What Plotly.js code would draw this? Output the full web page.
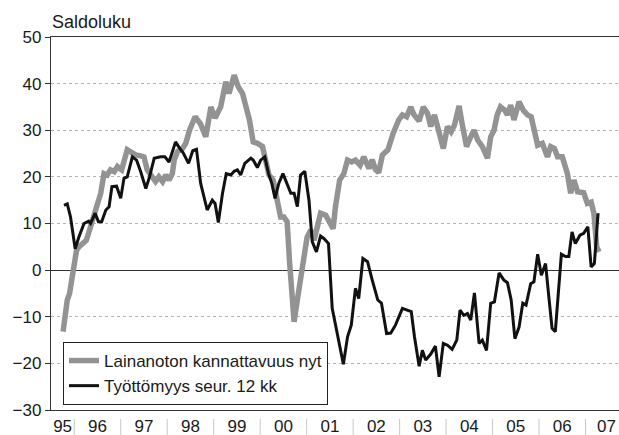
<!DOCTYPE html>
<html>
<head>
<meta charset="utf-8">
<script src="https://cdn.plot.ly/plotly-3.0.1.min.js"></script>
<style>html,body{margin:0;padding:0;background:#fff;}#chart{width:619px;height:435px;}</style>
</head>
<body>
<div id="chart"></div>
<script>
// Series 1: Lainanoton kannattavuus nyt (grey) — decimal years and balance values
var grayYears = [1995.76,1995.80,1995.85,1995.90,1995.96,1996.00,1996.05,1996.10,1996.19,1996.26,1996.33,1996.40,1996.50,1996.57,1996.64,1996.71,1996.78,1996.86,1996.93,1997.02,1997.14,1997.24,1997.32,1997.43,1997.50,1997.57,1997.67,1997.75,1997.82,1997.90,1997.97,1998.04,1998.11,1998.15,1998.22,1998.33,1998.40,1998.48,1998.60,1998.72,1998.83,1998.94,1999.03,1999.15,1999.26,1999.33,1999.44,1999.53,1999.62,1999.72,1999.77,1999.85,1999.94,2000.05,2000.12,2000.19,2000.28,2000.37,2000.44,2000.51,2000.58,2000.63,2000.68,2000.73,2000.80,2000.87,2000.94,2001.01,2001.09,2001.16,2001.23,2001.30,2001.41,2001.48,2001.57,2001.62,2001.71,2001.80,2001.88,2001.97,2002.05,2002.15,2002.23,2002.34,2002.41,2002.48,2002.55,2002.63,2002.75,2002.86,2002.98,2003.06,2003.15,2003.24,2003.31,2003.42,2003.51,2003.60,2003.67,2003.75,2003.82,2003.94,2004.03,2004.11,2004.18,2004.28,2004.35,2004.44,2004.53,2004.60,2004.68,2004.78,2004.89,2004.96,2005.03,2005.10,2005.17,2005.26,2005.32,2005.39,2005.46,2005.57,2005.66,2005.75,2005.83,2005.92,2005.97,2006.07,2006.18,2006.25,2006.33,2006.40,2006.50,2006.61,2006.68,2006.75,2006.83,2006.96,2007.04,2007.12,2007.18,2007.24,2007.29];
var grayValues = [-13.2,-9.3,-6.4,-5.0,-0.7,2.1,4.3,5.0,5.7,6.4,8.6,10.7,13.6,16.5,20.7,20.4,21.5,21.1,22.2,21.5,25.8,25.0,24.7,24.5,24.3,21.5,20.0,19.0,20.0,19.0,20.4,19.3,20.7,23.6,25.4,26.1,27.2,30.0,32.9,31.3,28.6,35.0,32.6,35.0,40.4,37.9,41.8,39.3,37.9,34.3,32.2,27.5,27.2,26.5,23.6,20.4,19.3,14.3,11.4,11.4,10.4,2.1,-5.0,-11.1,-6.4,-2.1,2.9,7.1,8.6,6.4,9.3,12.2,11.8,10.7,8.9,13.6,19.3,20.7,23.6,23.2,23.6,22.5,24.3,21.8,23.7,21.6,20.9,24.7,25.8,29.3,32.2,33.3,32.9,35.0,33.3,32.0,35.0,33.6,30.8,33.3,30.8,26.1,30.8,29.7,31.1,35.2,31.1,26.5,28.6,30.0,27.9,26.5,24.0,28.6,30.0,33.3,35.0,34.3,33.3,35.4,32.2,36.1,34.3,33.3,32.9,29.3,26.8,27.2,24.3,26.5,26.1,24.3,24.3,20.7,16.5,19.3,16.8,16.6,14.3,14.6,12.2,5.0,3.9];

// Series 2: Työttömyys seur. 12 kk (black)
var blackYears = [1995.78,1995.85,1995.92,1996.02,1996.10,1996.21,1996.31,1996.35,1996.45,1996.52,1996.59,1996.68,1996.75,1996.81,1996.91,1997.00,1997.07,1997.14,1997.25,1997.34,1997.43,1997.54,1997.62,1997.72,1997.86,1997.95,1998.04,1998.18,1998.27,1998.34,1998.46,1998.55,1998.63,1998.72,1998.86,1998.97,1999.03,1999.10,1999.19,1999.27,1999.37,1999.44,1999.51,1999.58,1999.67,1999.80,1999.85,1999.94,2000.01,2000.10,2000.18,2000.25,2000.32,2000.40,2000.49,2000.58,2000.66,2000.73,2000.80,2000.87,2000.96,2001.05,2001.12,2001.21,2001.30,2001.37,2001.47,2001.55,2001.66,2001.79,2001.88,2001.96,2002.05,2002.12,2002.21,2002.31,2002.41,2002.53,2002.61,2002.72,2002.81,2002.91,2003.06,2003.20,2003.25,2003.32,2003.42,2003.49,2003.56,2003.67,2003.77,2003.85,2003.94,2004.03,2004.13,2004.23,2004.30,2004.38,2004.46,2004.53,2004.61,2004.71,2004.78,2004.87,2004.96,2005.04,2005.14,2005.24,2005.32,2005.40,2005.48,2005.57,2005.65,2005.72,2005.82,2005.89,2005.97,2006.05,2006.14,2006.21,2006.28,2006.35,2006.40,2006.48,2006.57,2006.64,2006.71,2006.78,2006.88,2006.96,2007.05,2007.12,2007.19,2007.27];
var blackValues = [13.9,14.2,11.4,4.6,7.1,10.0,10.5,10.0,12.2,10.4,10.4,12.9,13.6,17.9,18.0,15.4,19.7,20.0,24.3,23.6,21.1,17.5,20.0,24.0,24.3,24.3,23.2,27.5,26.1,25.2,22.9,25.6,25.9,18.6,12.9,15.0,14.3,10.2,16.5,20.7,20.4,21.2,21.5,20.4,22.9,24.0,23.6,22.0,23.6,24.3,20.7,18.6,15.4,18.6,20.7,18.6,16.5,16.5,13.6,20.4,21.2,15.0,6.1,3.9,7.3,6.8,5.7,-8.2,-14.0,-20.2,-14.3,-11.8,-3.9,-6.1,2.5,1.8,-2.1,-6.4,-7.1,-13.6,-13.5,-11.8,-8.2,-8.6,-8.9,-14.3,-20.6,-17.2,-19.3,-18.0,-16.3,-22.9,-15.7,-16.1,-17.0,-15.0,-8.6,-9.7,-9.3,-10.7,-4.9,-15.7,-15.0,-17.2,-7.1,-6.8,-0.6,-2.1,-2.7,-6.4,-14.7,-12.2,-7.1,-7.5,-2.9,-2.5,3.4,-1.1,1.4,-5.7,-12.5,-13.2,-7.1,3.4,2.9,2.9,8.2,5.7,7.5,7.9,9.3,0.7,1.4,12.2];

// Axis labels
var yearLabels = ['95','96','97','98','99','00','01','02','03','04','05','06','07'];
var yearLabelPos = [1995.75,1996.5,1997.5,1998.5,1999.5,2000.5,2001.5,2002.5,2003.5,2004.5,2005.5,2006.5,2007.45];
var yearBounds = [1996,1997,1998,1999,2000,2001,2002,2003,2004,2005,2006,2007];
var seriesNames = ['Lainanoton kannattavuus nyt','Työttömyys seur. 12 kk'];
var titleText = 'Saldoluku';

var FONT = 'Liberation Sans, Arial, sans-serif';

var traces = [
  {x: grayYears, y: grayValues, name: seriesNames[0], type: 'scatter', mode: 'lines',
   line: {color: '#939393', width: 5.5}, hoverinfo: 'skip'},
  {x: blackYears, y: blackValues, name: seriesNames[1], type: 'scatter', mode: 'lines',
   line: {color: '#111111', width: 3}, hoverinfo: 'skip'}
];

// light year separators below the x axis, positioned on the x scale
var separators = yearBounds.map(function (yr) {
  return {type: 'line', xref: 'x', yref: 'paper', x0: yr, x1: yr, y0: -0.024, y1: -0.07,
          line: {color: '#c8c8c8', width: 1}, layer: 'above'};
});

var layout = {
  width: 619, height: 435,
  margin: {l: 51, r: 0, t: 37, b: 25, pad: 0},
  paper_bgcolor: '#ffffff', plot_bgcolor: '#ffffff',
  font: {family: FONT, color: '#1a1a1a', size: 17},
  showlegend: true,
  title: {text: titleText, font: {family: FONT, size: 18, color: '#1a1a1a'},
          x: 52/619, xanchor: 'left', xref: 'container',
          y: 1 - 22/435, yanchor: 'middle', yref: 'container'},
  xaxis: {
    range: [1995.5, 2007.72], showgrid: false, zeroline: false,
    showline: true, linecolor: '#333', linewidth: 1.2, mirror: true,
    tickmode: 'array', tickvals: yearLabelPos, ticktext: yearLabels, ticks: '',
    tickfont: {family: FONT, size: 17, color: '#1a1a1a'}
  },
  yaxis: {
    range: [-30, 50], tickmode: 'linear', tick0: -30, dtick: 10,
    showgrid: true, gridcolor: '#b5b5b5', griddash: 'dot', gridwidth: 1,
    zeroline: true, zerolinecolor: '#333', zerolinewidth: 1.2,
    showline: true, linecolor: '#333', linewidth: 1.2,
    ticks: 'outside', ticklen: 5, tickcolor: '#333',
    tickfont: {family: FONT, size: 17, color: '#1a1a1a'}
  },
  shapes: separators,
  legend: {
    x: 12/568, xanchor: 'left', y: (410-342)/373, yanchor: 'top',
    bgcolor: '#ffffff', bordercolor: '#222', borderwidth: 1,
    font: {family: FONT, size: 17, color: '#1a1a1a'},
    tracegroupgap: 0
  }
};

Plotly.newPlot('chart', traces, layout, {staticPlot: true, displayModeBar: false});
</script>
</body>
</html>
